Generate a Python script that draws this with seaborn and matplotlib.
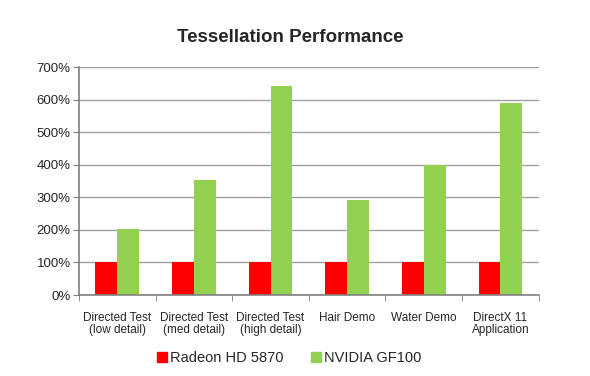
import numpy as np
import pandas as pd
import matplotlib
matplotlib.use("Agg")
import matplotlib.pyplot as plt
import seaborn as sns

# data (percent of Radeon HD 5870)
categories = ["Directed Test\n(low detail)", "Directed Test\n(med detail)",
              "Directed Test\n(high detail)", "Hair Demo", "Water Demo",
              "DirectX 11\nApplication"]
radeon = [100, 100, 100, 100, 100, 100]
nvidia = [203, 355, 643, 293, 400, 589]
series = ["Radeon HD 5870", "NVIDIA GF100"]
colors = ["#FF0000", "#92D050"]

df = pd.DataFrame({
    "category": categories * 2,
    "card": [series[0]] * len(categories) + [series[1]] * len(categories),
    "value": radeon + nvidia,
})

sns.set_style("white")
plt.rcParams["font.family"] = ["Liberation Sans", "DejaVu Sans"]

fig = plt.figure(figsize=(5.9, 3.76), dpi=100)
ax = fig.add_axes([0.1339, 0.2154, 0.7791, 0.6056])

sns.barplot(data=df, x="category", y="value", hue="card", palette=colors,
            width=0.57, gap=0, saturation=1, linewidth=0, ax=ax, legend=False)

ax.set_ylim(0, 700)
ax.set_xlim(-0.5, len(categories) - 0.5)
ax.set_yticks(np.arange(0, 701, 100))
ax.set_yticklabels([f"{v}%" for v in range(0, 701, 100)], fontsize=9.5)
ax.yaxis.grid(True, color="#a0a0a0", linewidth=1)
ax.set_axisbelow(True)
ax.tick_params(axis="y", length=4, color="#808080", direction="out", pad=2, left=True)

ax.set_xticks(range(len(categories)))
ax.set_xticklabels(categories, fontsize=8.5, linespacing=1.0)
ax.set_xticks(np.arange(-0.5, len(categories), 1), minor=True)
ax.tick_params(axis="x", which="major", length=0, pad=12)
ax.tick_params(axis="x", which="minor", length=4, color="#808080", direction="out", bottom=True)

ax.set_xlabel("")
ax.set_ylabel("")
for s in ["top", "right"]:
    ax.spines[s].set_visible(False)
for s in ["left", "bottom"]:
    ax.spines[s].set_color("#808080")
    ax.spines[s].set_linewidth(1.2)

fig.text(0.492, 0.9, "Tessellation Performance", ha="center", va="center",
         fontsize=13.5, fontweight="bold")

handles = [plt.Rectangle((0, 0), 1, 1, color=c) for c in colors]
fig.legend(handles, series, loc="center", bbox_to_anchor=(0.49, 0.048), ncol=2,
           frameon=False, fontsize=10.5, handlelength=0.7, handleheight=0.7,
           handletextpad=0.2, columnspacing=1.9)

fig.savefig("out.png", dpi=100)
